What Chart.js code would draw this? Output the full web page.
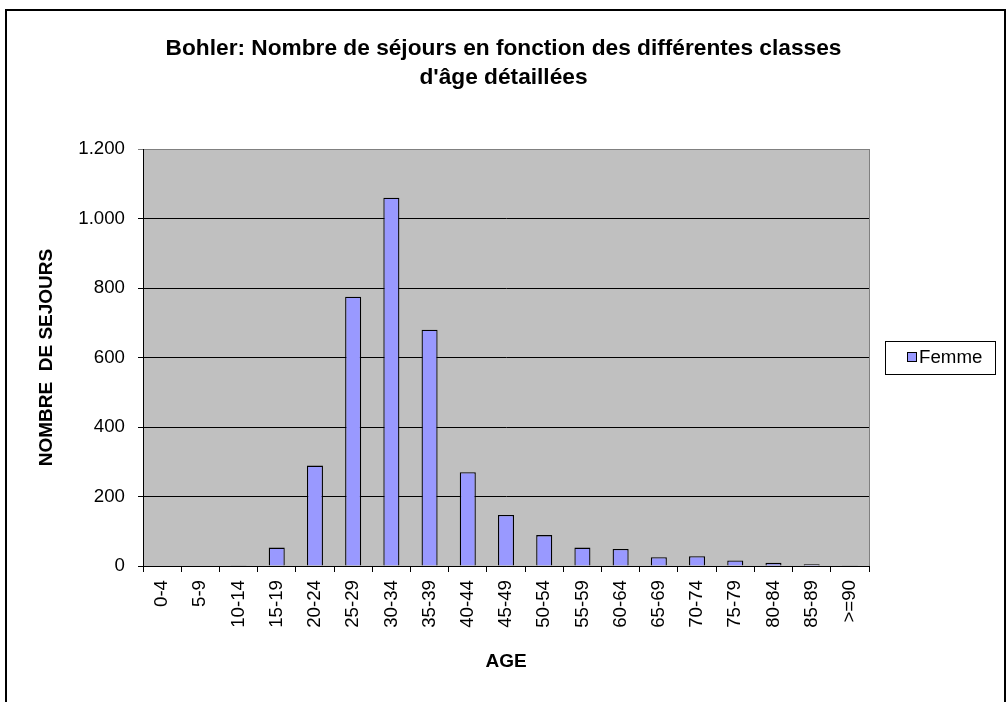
<!DOCTYPE html>
<html lang="fr">
<head>
<meta charset="utf-8">
<title>Bohler: Nombre de séjours</title>
<script src="https://cdn.jsdelivr.net/npm/chart.js@4/dist/chart.umd.min.js"></script>
<style>
  html, body { margin: 0; padding: 0; background: #ffffff; }
  canvas { display: block; }
</style>
</head>
<body>
<canvas id="chart" width="1007" height="702"></canvas>
<script>
// Age classes and number of stays (women)
const ageClasses = ['0-4', '5-9', '10-14', '15-19', '20-24', '25-29', '30-34', '35-39', '40-44',
  '45-49', '50-54', '55-59', '60-64', '65-69', '70-74', '75-79', '80-84', '85-89', '>=90'];
const femmeSejours = [0, 0, 2, 53, 289, 775, 1060, 680, 270, 147, 89, 53, 49, 25, 28, 16, 9, 5, 2];
const seriesName = 'Femme';
const titleLines = ['Bohler: Nombre de séjours en fonction des différentes classes', "d'âge détaillées"];
const yTitle = 'NOMBRE  DE SEJOURS';
const xTitle = 'AGE';

const FONT = '"Liberation Sans", Arial, sans-serif';
const TEXT_SIZE = 18.7;

// Thousands separator with a dot: 1200 -> "1.200"
function formatThousands(v) {
  return String(Math.round(v)).replace(/\B(?=(\d{3})+(?!\d))/g, '.');
}

// Grey plot background with a grey frame
const plotBackground = {
  id: 'plotBackground',
  beforeDraw(chart) {
    const { ctx, chartArea: a } = chart;
    ctx.save();
    ctx.fillStyle = '#C0C0C0';
    ctx.fillRect(a.left, a.top, a.right - a.left, a.bottom - a.top);
    ctx.strokeStyle = '#808080';
    ctx.lineWidth = 1;
    ctx.strokeRect(Math.round(a.left) + 0.5, Math.round(a.top) + 0.5,
      Math.round(a.right - a.left), Math.round(a.bottom - a.top));
    ctx.restore();
  }
};

// Outer frame and boxed legend on the right
const frameAndLegend = {
  id: 'frameAndLegend',
  afterDraw(chart) {
    const { ctx, chartArea: a } = chart;
    ctx.save();
    ctx.strokeStyle = '#000000';
    ctx.lineWidth = 2;
    ctx.strokeRect(6, 10, 999, 720);

    const ds = chart.data.datasets[0];
    const midY = (a.top + a.bottom) / 2;
    const bx = 885.5, bw = 110, bh = 33;
    const by = Math.round(midY - bh / 2) + 0.5;
    ctx.fillStyle = '#ffffff';
    ctx.fillRect(bx, by, bw, bh);
    ctx.lineWidth = 1;
    ctx.strokeStyle = '#000000';
    ctx.strokeRect(bx, by, bw, bh);

    ctx.fillStyle = ds.backgroundColor;
    ctx.fillRect(907.5, Math.round(midY) - 5.5, 9, 9);
    ctx.strokeStyle = '#000000';
    ctx.strokeRect(907.5, Math.round(midY) - 5.5, 9, 9);

    ctx.fillStyle = '#000000';
    ctx.font = TEXT_SIZE + 'px ' + FONT;
    ctx.textAlign = 'left';
    ctx.textBaseline = 'middle';
    ctx.fillText(ds.label, 919, midY);
    ctx.restore();
  }
};

new Chart(document.getElementById('chart'), {
  type: 'bar',
  data: {
    labels: ageClasses,
    datasets: [{
      label: seriesName,
      data: femmeSejours,
      backgroundColor: '#9999FF',
      borderColor: '#000000',
      borderWidth: 1.3,
      barPercentage: 0.42,
      categoryPercentage: 1.0
    }]
  },
  options: {
    responsive: false,
    animation: false,
    devicePixelRatio: 1,
    layout: { padding: 0 },
    plugins: {
      legend: { display: false },
      tooltip: { enabled: false },
      title: {
        display: true,
        text: titleLines,
        color: '#000000',
        font: { family: FONT, size: 22.7, weight: 'bold', lineHeight: 1.28 },
        padding: { top: 34, bottom: 57 }
      }
    },
    scales: {
      x: {
        offset: true,
        grid: {
          offset: true,
          drawOnChartArea: false,
          drawTicks: true,
          tickLength: 6,
          color: '#000000'
        },
        border: { color: '#000000', width: 1 },
        ticks: {
          color: '#000000',
          font: { family: FONT, size: TEXT_SIZE },
          minRotation: 90,
          maxRotation: 90,
          autoSkip: false,
          padding: 8
        },
        title: {
          display: true,
          text: xTitle,
          color: '#000000',
          font: { family: FONT, size: 19, weight: 'bold' },
          padding: { top: 0, bottom: 29 }
        },
        afterFit(scale) { scale.height = 136; }
      },
      y: {
        min: 0,
        max: 1200,
        position: 'left',
        grid: {
          color: (c) => (c.tick && c.tick.value === 1200 ? '#808080' : '#000000'),
          drawTicks: true,
          tickLength: 5
        },
        border: { color: '#000000', width: 1 },
        ticks: {
          stepSize: 200,
          color: '#000000',
          font: { family: FONT, size: TEXT_SIZE },
          padding: 13,
          callback: (v) => formatThousands(v)
        },
        title: {
          display: true,
          text: yTitle,
          color: '#000000',
          font: { family: FONT, size: 19, weight: 'bold' },
          padding: { top: 35, bottom: 0 }
        },
        afterFit(scale) { scale.width = 143; }
      },
      // empty right-hand axis reserving room for the legend box
      yRight: {
        position: 'right',
        display: true,
        grid: { display: false },
        border: { display: false },
        ticks: { display: false },
        afterFit(scale) { scale.width = 138; }
      }
    }
  },
  plugins: [plotBackground, frameAndLegend]
});
</script>
</body>
</html>
